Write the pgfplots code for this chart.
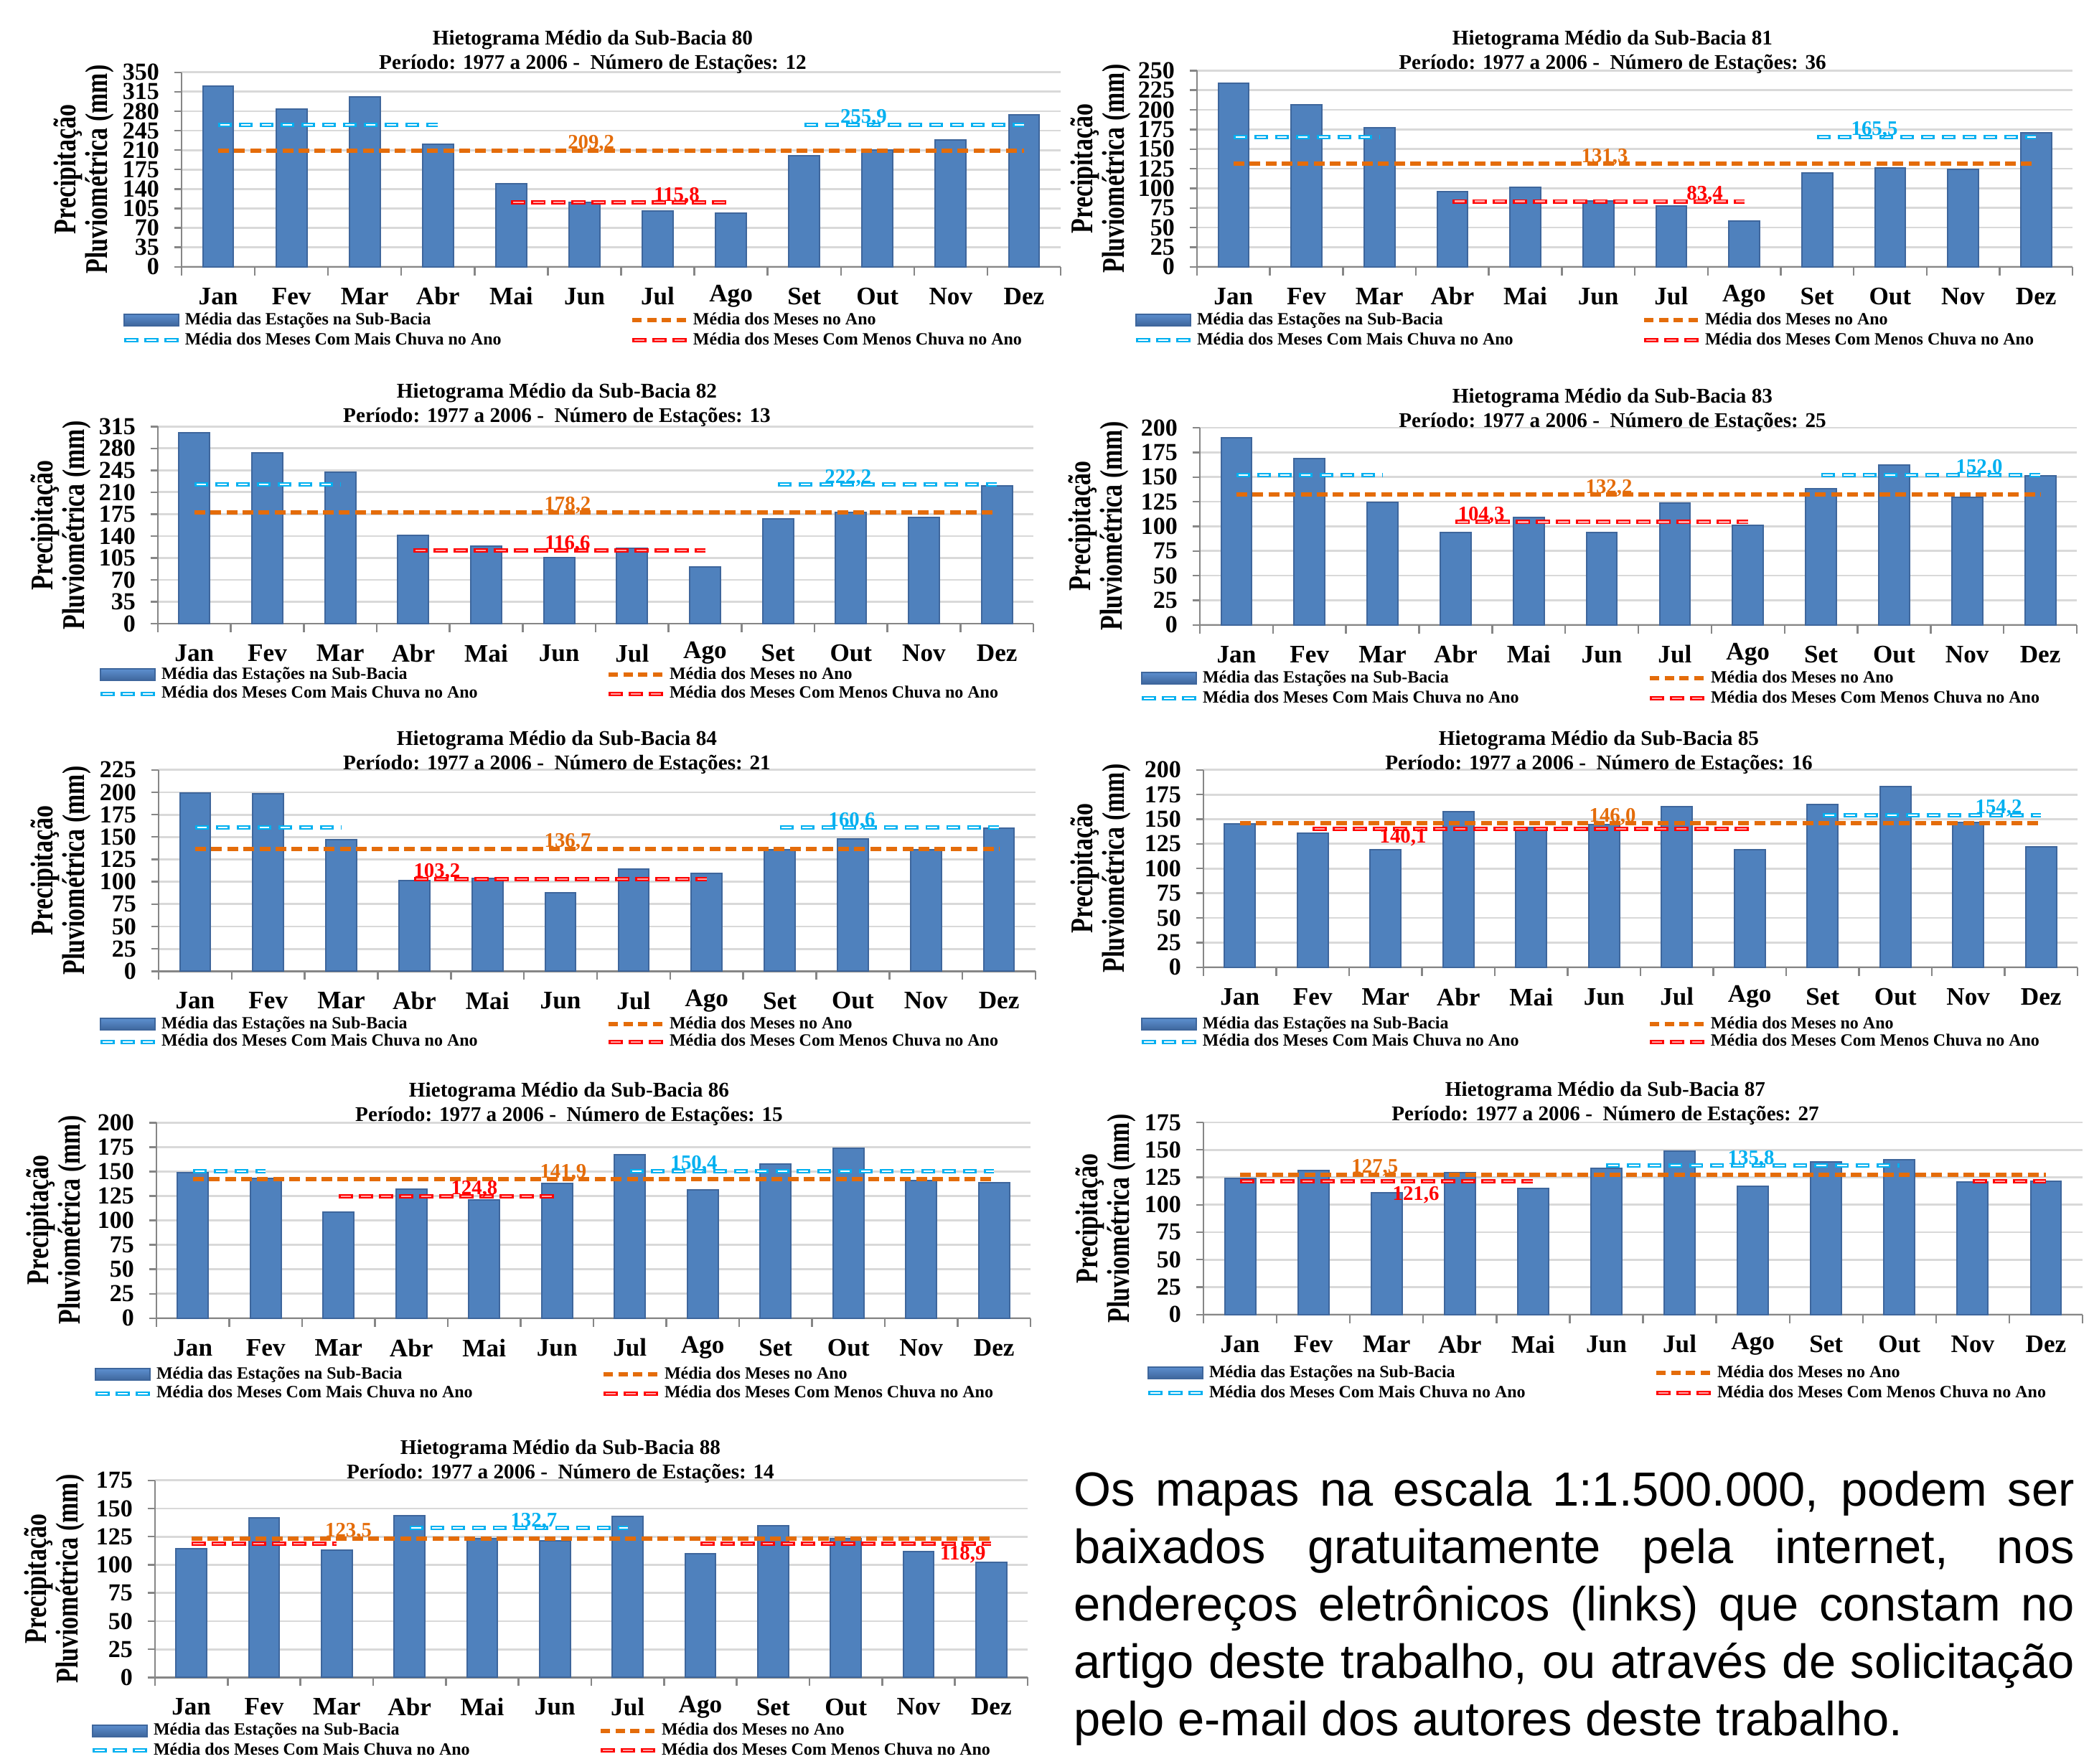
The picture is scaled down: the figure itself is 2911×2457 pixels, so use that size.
\documentclass[border=0pt]{standalone}
\usepackage{fontspec}
\setmainfont{Liberation Serif}
\newfontfamily\ylabfont[FakeStretch=0.77]{Liberation Serif}
\newfontfamily\sansfont{Liberation Sans}
\usepackage{pgfplots}
\pgfplotsset{compat=1.18}

\definecolor{barblue}{RGB}{79,129,189}
\definecolor{bdark}{RGB}{62,102,156}
\definecolor{bmid}{RGB}{92,142,206}
\definecolor{orangec}{RGB}{228,108,10}
\definecolor{cyanc}{RGB}{0,176,240}
\definecolor{redc}{RGB}{255,0,0}
\definecolor{redinner}{RGB}{255,165,165}
\definecolor{gridgray}{RGB}{217,217,217}
\definecolor{axisgray}{RGB}{134,134,134}

\newcommand{\monthfont}{\bfseries\fontsize{8.8}{9}\selectfont}
\newcommand{\tickfont}{\bfseries\fontsize{8.5}{9}\selectfont}
\newcommand{\legfont}{\bfseries\fontsize{6}{6.5}\selectfont}
\newcommand{\valfont}{\bfseries\fontsize{7.2}{8}\selectfont}
\newcommand{\titfont}{\bfseries\fontsize{7.3}{8}\selectfont}
\newcommand{\ylabf}{\ylabfont\bfseries\fontsize{11}{9.8}\selectfont}

\pgfplotsset{
  hist/.style={
    scale only axis, anchor=south west,
    xmin=-0.5, xmax=11.5, ymin=0,
    axis lines=left,
    axis line style={-, draw=axisgray, line width=0.6pt},
    ymajorgrids, major grid style={draw=gridgray, line width=0.7pt},
    tick align=outside, major tick length=2.6pt,
    tick style={draw=axisgray, line width=0.6pt},
    xtick={0,...,11},
    xticklabels={Jan,Fev,Mar,Abr,Mai,Jun,Jul,Ago,Set,Out,Nov,Dez},
    xtick style={draw=none},
    extra x ticks={-0.5,0.5,...,11.5},
    extra x tick labels={},
    extra x tick style={grid=none, xtick style={draw=axisgray, line width=0.6pt}, major tick length=3pt},
    xticklabel style={font=\monthfont, anchor=center, inner sep=0pt, yshift=-7.7pt},
    yticklabel style={font=\tickfont, anchor=east, inner sep=0pt, xshift=-5pt},
    /pgf/number format/assume math mode=true,
    unbounded coords=jump,
    clip=false,
    legend columns=2,
    legend cell align=left,
    legend style={draw=none, fill=none, inner sep=0pt, outer sep=0pt, anchor=west,
      font=\legfont, row sep=1pt, nodes={inner sep=0pt}},
  },
  barplot/.style={ybar, bar width=0.42, fill=barblue, draw=bdark, line width=0.5pt,
    legend image code/.code={\fill[top color=bmid, bottom color=bdark] (0pt,-2pt) rectangle (19pt,2pt); \path (20.5pt,0pt);}},
  orangeline/.style={sharp plot, draw=orangec, line width=1.5pt, dash pattern=on 3.75pt off 1.85pt,
    legend image code/.code={\draw[orangec, line width=1.5pt, dash pattern=on 3.3pt off 1.85pt] (0pt,0pt)--(18.7pt,0pt); \path (20.5pt,0pt);}},
  cyanline/.style={sharp plot, draw=cyanc, line width=1.5pt, dash pattern=on 4.75pt off 2.5pt,
    legend image code/.code={\draw[cyanc, line width=1.5pt, dash pattern=on 5pt off 2pt] (0pt,0pt)--(19pt,0pt);
      \draw[white, line width=0.55pt, dash pattern=on 0pt off 0.7pt on 3.6pt off 2.7pt] (0pt,0pt)--(19pt,0pt); \path (20.5pt,0pt);}},
  cyaninner/.style={sharp plot, forget plot, draw=white, line width=0.55pt, dash pattern=on 0pt off 0.7pt on 3.35pt off 3.2pt},
  redline/.style={sharp plot, draw=redc, line width=1.5pt, dash pattern=on 5pt off 2pt,
    legend image code/.code={\draw[redc, line width=1.5pt, dash pattern=on 5pt off 2pt] (0pt,0pt)--(19pt,0pt);
      \draw[redinner, line width=0.55pt, dash pattern=on 0pt off 0.7pt on 3.6pt off 2.7pt] (0pt,0pt)--(19pt,0pt); \path (20.5pt,0pt);}},
  redinnerline/.style={sharp plot, forget plot, draw=redinner, line width=0.55pt, dash pattern=on 0pt off 0.7pt on 3.6pt off 2.7pt},
}
\tikzset{val/.style={anchor=base, inner sep=0pt, font=\valfont, yshift=0.5pt}}

\newcommand{\legs}{\legend{{\makebox[155pt][l]{Média das Estações na Sub-Bacia\strut}},{Média dos Meses no Ano\strut},{\makebox[155pt][l]{Média dos Meses Com Mais Chuva no Ano\strut}},{Média dos Meses Com Menos Chuva no Ano\strut}}}

\begin{document}
\begin{tikzpicture}
\begin{scope}[x=0.25pt,y=-0.25pt]
\path[use as bounding box] (0,0) rectangle (2911,2457);
\end{scope}

% ---------------- 80
\begin{axis}[hist, at={(63.25pt,-92.93pt)}, width=306.25pt, height=67.75pt,
  ymax=350, ytick={0,35,...,350}, legend style={at={(-0.0678,-0.3258)}}]
\addplot[barplot] coordinates {(0,325) (1,284) (2,306) (3,220) (4,149) (5,116) (6,101) (7,97) (8,200) (9,210) (10,228) (11,273)};
\addplot[orangeline] coordinates {(0,209.2) (11,209.2)};
\addplot[cyanline] coordinates {(0,255.9) (3,255.9) (5.5,nan) (8,255.9) (11,255.9)};
\addplot[cyaninner] coordinates {(0,255.9) (3,255.9) (5.5,nan) (8,255.9) (11,255.9)};
\addplot[redline] coordinates {(4,115.8) (7,115.8)};
\addplot[redinnerline] coordinates {(4,115.8) (7,115.8)};
\node[val, text=cyanc] at (axis cs:8.81,255.9) {255,9};
\node[val, text=orangec] at (axis cs:5.09,209.2) {209,2};
\node[val, text=redc] at (axis cs:6.26,115.8) {115,8};
\legs
\end{axis}

% ---------------- 81
\begin{axis}[hist, at={(417pt,-92.93pt)}, width=305pt, height=68.35pt,
  ymax=250, ytick={0,25,...,250}, legend style={at={(-0.0721,-0.323)}}]
\addplot[barplot] coordinates {(0,234) (1,206) (2,177) (3,96) (4,101) (5,84) (6,77.5) (7,58.5) (8,120) (9,126) (10,124) (11,171)};
\addplot[orangeline] coordinates {(0,131.3) (11,131.3)};
\addplot[cyanline] coordinates {(0,165.5) (2,165.5) (5,nan) (8,165.5) (11,165.5)};
\addplot[cyaninner] coordinates {(0,165.5) (2,165.5) (5,nan) (8,165.5) (11,165.5)};
\addplot[redline] coordinates {(3,83.4) (7,83.4)};
\addplot[redinnerline] coordinates {(3,83.4) (7,83.4)};
\node[val, text=cyanc] at (axis cs:8.785,165.5) {165,5};
\node[val, text=orangec] at (axis cs:5.087,131.3) {131,3};
\node[val, text=redc] at (axis cs:6.46,83.4) {83,4};
\legs
\end{axis}

% ---------------- 82
\begin{axis}[hist, at={(55pt,-217.25pt)}, width=305pt, height=68.68pt,
  ymax=315, ytick={0,35,...,315}, legend style={at={(-0.068,-0.3076)}, row sep=0.5pt}]
\addplot[barplot] coordinates {(0,304.5) (1,273) (2,241.5) (3,140.5) (4,124) (5,106) (6,121) (7,91) (8,168) (9,177.5) (10,170) (11,220.5)};
\addplot[orangeline] coordinates {(0,178.2) (11,178.2)};
\addplot[cyanline] coordinates {(0,222.2) (2,222.2) (5,nan) (8,222.2) (11,222.2)};
\addplot[cyaninner] coordinates {(0,222.2) (2,222.2) (5,nan) (8,222.2) (11,222.2)};
\addplot[redline] coordinates {(3,116.6) (7,116.6)};
\addplot[redinnerline] coordinates {(3,116.6) (7,116.6)};
\node[val, text=cyanc] at (axis cs:8.96,222.2) {222,2};
\node[val, text=orangec] at (axis cs:5.116,178.2) {178,2};
\node[val, text=redc] at (axis cs:5.116,116.6) {116,6};
\legs
\end{axis}

% ---------------- 83
\begin{axis}[hist, at={(418pt,-217.68pt)}, width=305.5pt, height=68.68pt,
  ymax=200, ytick={0,25,...,200}, legend style={at={(-0.0687,-0.3214)}}]
\addplot[barplot] coordinates {(0,190) (1,168.5) (2,124.5) (3,93.5) (4,109) (5,94) (6,123.5) (7,101) (8,138.5) (9,162) (10,129.5) (11,151)};
\addplot[orangeline] coordinates {(0,132.2) (11,132.2)};
\addplot[cyanline] coordinates {(0,152.0) (2,152.0) (5,nan) (8,152.0) (11,152.0)};
\addplot[cyaninner] coordinates {(0,152.0) (2,152.0) (5,nan) (8,152.0) (11,152.0)};
\addplot[redline] coordinates {(3,104.3) (7,104.3)};
\addplot[redinnerline] coordinates {(3,104.3) (7,104.3)};
\node[val, text=cyanc] at (axis cs:10.165,152.0) {152,0};
\node[val, text=orangec] at (axis cs:5.098,132.2) {132,2};
\node[val, text=redc] at (axis cs:3.35,104.3) {104,3};
\legs
\end{axis}

% ---------------- 84
\begin{axis}[hist, at={(55.25pt,-338.33pt)}, width=305.5pt, height=70.15pt,
  ymax=225, ytick={0,25,...,225}, legend style={at={(-0.0687,-0.3072)}, row sep=0pt}]
\addplot[barplot] coordinates {(0,199.5) (1,198) (2,147) (3,101) (4,104) (5,87.5) (6,114.5) (7,109) (8,136) (9,148) (10,136) (11,159.5)};
\addplot[orangeline] coordinates {(0,136.7) (11,136.7)};
\addplot[cyanline] coordinates {(0,160.6) (2,160.6) (5,nan) (8,160.6) (11,160.6)};
\addplot[cyaninner] coordinates {(0,160.6) (2,160.6) (5,nan) (8,160.6) (11,160.6)};
\addplot[redline] coordinates {(3,103.2) (7,103.2)};
\addplot[redinnerline] coordinates {(3,103.2) (7,103.2)};
\node[val, text=cyanc] at (axis cs:8.986,160.6) {160,6};
\node[val, text=orangec] at (axis cs:5.098,136.7) {136,7};
\node[val, text=redc] at (axis cs:3.31,103.2) {103,2};
\legs
\end{axis}

% ---------------- 85
\begin{axis}[hist, at={(419.25pt,-336.93pt)}, width=304.5pt, height=68.75pt,
  ymax=200, ytick={0,25,...,200}, legend style={at={(-0.0731,-0.3338)}, row sep=0pt}]
\addplot[barplot] coordinates {(0,145) (1,136) (2,119) (3,158) (4,141.5) (5,144.5) (6,162.5) (7,119) (8,165) (9,183) (10,147) (11,122)};
\addplot[orangeline] coordinates {(0,146.0) (11,146.0)};
\addplot[cyanline] coordinates {(8,154.2) (11,154.2)};
\addplot[cyaninner] coordinates {(8,154.2) (11,154.2)};
\addplot[redline] coordinates {(1,140.1) (7,140.1)};
\addplot[redinnerline] coordinates {(1,140.1) (7,140.1)};
\node[val, text=cyanc] at (axis cs:10.416,154.2) {154,2};
\node[val, text=orangec] at (axis cs:5.116,146.0) {146,0};
\node[val, text=redc] at (axis cs:2.239,124.4) {140,1};
\legs
\end{axis}

% ---------------- 86
\begin{axis}[hist, at={(54.5pt,-459.18pt)}, width=304.5pt, height=68.1pt,
  ymax=200, ytick={0,25,...,200}, legend style={at={(-0.0722,-0.337)}, row sep=0.5pt}]
\addplot[barplot] coordinates {(0,149) (1,143) (2,108.5) (3,132) (4,121) (5,137.5) (6,167.5) (7,131.5) (8,157.5) (9,174) (10,141) (11,138.5)};
\addplot[orangeline] coordinates {(0,141.9) (11,141.9)};
\addplot[cyanline] coordinates {(0,150.4) (1,150.4) (3.5,nan) (6,150.4) (11,150.4)};
\addplot[cyaninner] coordinates {(0,150.4) (1,150.4) (3.5,nan) (6,150.4) (11,150.4)};
\addplot[redline] coordinates {(2,124.8) (5,124.8)};
\addplot[redinnerline] coordinates {(2,124.8) (5,124.8)};
\node[val, text=cyanc] at (axis cs:6.88,150.4) {150,4};
\node[val, text=orangec] at (axis cs:5.086,141.9) {141,9};
\node[val, text=redc] at (axis cs:3.864,124.8) {124,8};
\legs
\end{axis}

% ---------------- 87
\begin{axis}[hist, at={(419.25pt,-457.93pt)}, width=306.25pt, height=66.93pt,
  ymax=175, ytick={0,25,...,175}, legend style={at={(-0.0653,-0.356)}}]
\addplot[barplot] coordinates {(0,124) (1,131) (2,111) (3,129) (4,115) (5,133.5) (6,149) (7,117) (8,139) (9,141) (10,120.5) (11,121.5)};
\addplot[orangeline] coordinates {(0,127.5) (11,127.5)};
\addplot[cyanline] coordinates {(5,135.8) (9,135.8)};
\addplot[cyaninner] coordinates {(5,135.8) (9,135.8)};
\addplot[redline] coordinates {(0,121.6) (4,121.6) (7,nan) (10,121.6) (11,121.6)};
\addplot[redinnerline] coordinates {(0,121.6) (4,121.6) (7,nan) (10,121.6) (11,121.6)};
\node[val, text=cyanc] at (axis cs:6.975,135.8) {135,8};
\node[val, text=orangec] at (axis cs:1.84,127.5) {127,5};
\node[val, text=redc] at (axis cs:2.40,103.1) {121,6};
\legs
\end{axis}

% ---------------- 88
\begin{axis}[hist, at={(54pt,-584.33pt)}, width=304pt, height=68.65pt,
  ymax=175, ytick={0,25,...,175}, legend style={at={(-0.074,-0.3212)}, row sep=0.8pt}]
\addplot[barplot] coordinates {(0,114) (1,141.5) (2,113) (3,143.5) (4,123) (5,121.5) (6,143) (7,110) (8,135) (9,123) (10,112) (11,102.5)};
\addplot[orangeline] coordinates {(0,123.5) (11,123.5)};
\addplot[cyanline] coordinates {(3,132.7) (6,132.7)};
\addplot[cyaninner] coordinates {(3,132.7) (6,132.7)};
\addplot[redline] coordinates {(0,118.9) (2,118.9) (4.5,nan) (7,118.9) (11,118.9)};
\addplot[redinnerline] coordinates {(0,118.9) (2,118.9) (4.5,nan) (7,118.9) (11,118.9)};
\node[val, text=cyanc] at (axis cs:4.71,132.7) {132,7};
\node[val, text=orangec] at (axis cs:2.16,123.5) {123,5};
\node[val, text=redc] at (axis cs:10.61,103.4) {118,9};
\legs
\end{axis}

\begin{scope}[x=0.25pt,y=-0.25pt]
% titles
\foreach \tx/\ty/\num/\est in {826/52/80/12, 2247/52/81/36, 776/544/82/13, 2247/551/83/25, 776/1028/84/21, 2228/1028/85/16, 793/1518/86/15, 2237/1517/87/27, 781/2016/88/14}{
  \node[font=\titfont] at (\tx,\ty+4) {Hietograma Médio da Sub-Bacia \num};
  \node[font=\titfont] at (\tx,\ty+37) {Período: 1977 a 2006 -\ \ Número de Estações: \est};
}
% y labels
\foreach \xm/\yc in {117/236, 1534/235, 85/732, 1531/733, 85/1213, 1534/1210, 79/1700, 1541/1698, 76/2200}{
  \node[rotate=90, font=\ylabf, align=center, inner sep=0pt] at (\xm,\yc) {Precipitação\\Pluviométrica (mm)};
}
% text block
\node[anchor=base west, inner sep=0pt] at (1496,2098) {\parbox[t]{348.5pt}{\sansfont\fontsize{16.7}{20}\selectfont Os mapas na escala 1:1.500.000, podem ser\linebreak baixados gratuitamente pela internet, nos\linebreak endereços eletrônicos (links) que constam no\linebreak artigo deste trabalho, ou através de solicitação\linebreak pelo e-mail dos autores deste trabalho.}};
\end{scope}
\end{tikzpicture}
\end{document}
